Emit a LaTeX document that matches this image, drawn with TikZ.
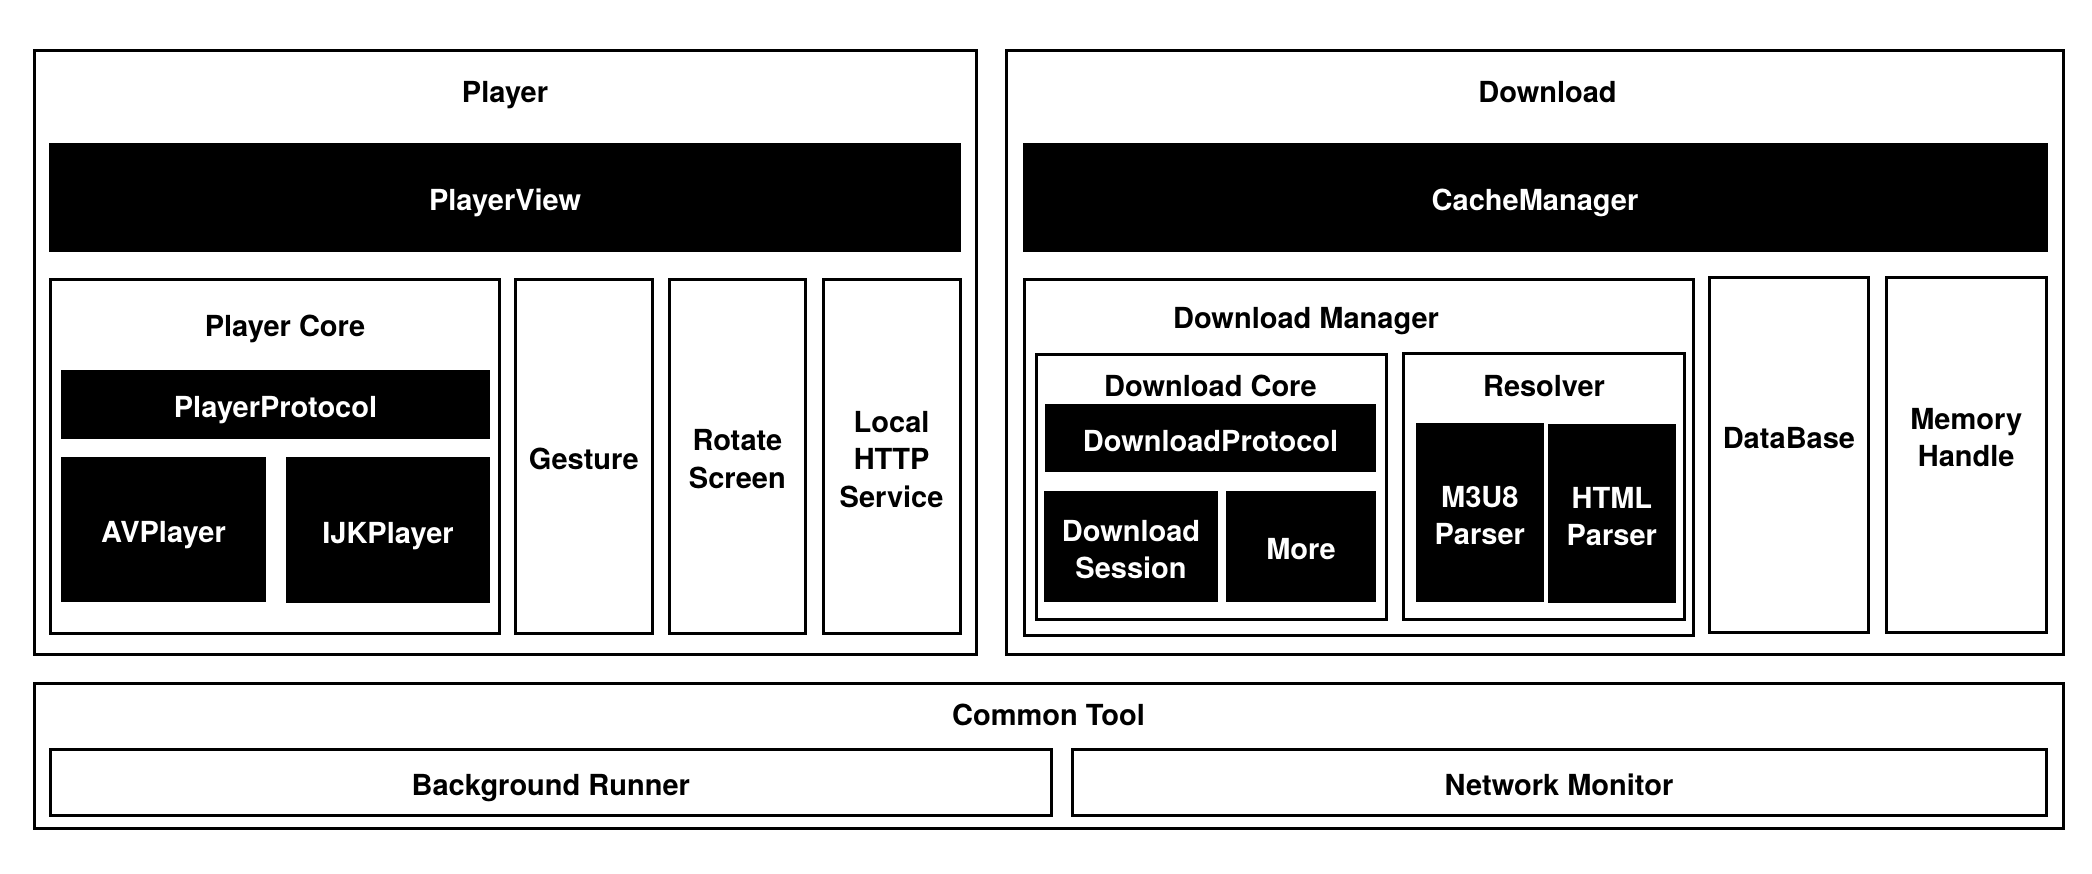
\documentclass[tikz,border=0pt]{standalone}
\usepackage{fontspec}
\newfontfamily\hv{TeX Gyre Heros}
\newcommand\bx[7]{\node[#6, minimum width={#4-#2}, minimum height={#5-#3}] (#1) at ({(#2+#4)/2},{(#3+#5)/2}) {#7};}
\begin{document}
\begin{tikzpicture}[x=1pt,y=-1pt,
  lbl/.style={font=\hv\bfseries\fontsize{29}{37.5}\selectfont, align=center, inner sep=0pt, text height=26.8pt, text depth=0pt},
  outl/.style={lbl, draw, line width=3pt},
  blk/.style={lbl, fill=black, text=white},
  two/.style={text height=64.3pt},
  three/.style={text height=101.8pt},
  hi/.style={text height=20.8pt, text depth=34pt},
  hitwo/.style={text height=58.3pt, text depth=34pt},
  ttl/.style={font=\hv\bfseries\fontsize{29}{37.5}\selectfont, anchor=base, inner sep=0pt}]
\fill[white] (0,0) rectangle (2092,874);
\useasboundingbox (0,0) rectangle (2092,874);
% containers
\bx{player}{34}{51}{976}{654}{outl}{}
\bx{download}{1006}{51}{2063}{654}{outl}{}
\bx{common}{34}{683.5}{2063}{828.3}{outl}{}
\node[ttl] (playerT) at (505,102.3) {Player};
\node[ttl] (downloadT) at (1547.5,102.3) {Download};
\node[ttl] (commonT) at (1048.5,725) {Common Tool};
% player part
\bx{playerview}{49.3}{143.3}{961}{251.7}{blk}{PlayerView}
\bx{pcore}{50.8}{279.3}{499}{633.3}{outl}{}
\node[ttl] (pcoreT) at (285,337) {Player Core};
\bx{pproto}{61}{370.3}{490}{438.7}{blk}{PlayerProtocol}
\bx{avplayer}{61}{457}{266}{601.7}{blk}{AVPlayer}
\bx{ijk}{286}{456.7}{490}{602.5}{blk}{IJKPlayer}
\bx{gesture}{515.3}{279.3}{652.3}{633.3}{outl}{Gesture}
\bx{rotate}{669.5}{279.3}{805.3}{633.3}{outl,two}{Rotate\\Screen}
\bx{local}{823.2}{279.3}{960}{633.3}{outl,three}{Local\\HTTP\\Service}
% download part
\bx{cachemgr}{1022.5}{143.3}{2047.5}{251.7}{blk}{CacheManager}
\bx{dman}{1024.2}{280}{1693.3}{635}{outl}{}
\node[ttl] (dmanT) at (1306,328.3) {Download Manager};
\bx{dcore}{1036.3}{354.5}{1386}{619}{outl}{}
\node[ttl] (dcoreT) at (1210.5,396) {Download Core};
\bx{dproto}{1045}{404.3}{1376}{472.3}{blk}{DownloadProtocol}
\bx{dsession}{1044.3}{491}{1217.7}{601.7}{blk,two}{Download\\Session}
\bx{more}{1226}{491}{1376}{601.7}{blk}{More}
\bx{resolver}{1403.3}{353.8}{1684}{619.3}{outl}{}
\node[ttl] (resolverT) at (1544,396) {Resolver};
\bx{m3u8}{1416}{423}{1543.7}{601.7}{blk,two}{M3U8\\Parser}
\bx{html}{1548}{424}{1675.7}{602.7}{blk,two}{HTML\\Parser}
\bx{database}{1709.3}{277.3}{1868.5}{632.3}{outl,hi}{DataBase}
\bx{memory}{1886}{277.3}{2046.5}{632.3}{outl,hitwo}{Memory\\Handle}
% common tool
\bx{bgrunner}{50}{749.3}{1051.5}{815}{outl}{Background Runner}
\bx{netmon}{1072}{749.3}{2046}{815}{outl}{Network Monitor}
\end{tikzpicture}
\end{document}
